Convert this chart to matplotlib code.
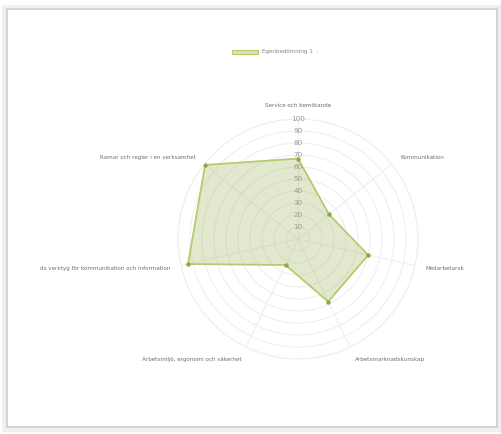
import numpy as np
import matplotlib
matplotlib.use("Agg")
import matplotlib.pyplot as plt
from matplotlib.patches import Rectangle

categories = ["Service och bemötande", "Kommunikation", "Medarbetarsk",
              "Arbetsmarknadskunskap", "Arbetsmiljö, ergonomi och säkerhet",
              "ds verktyg för kommunikation och information",
              "Ramar och regler i en verksamhet"]
values = [67, 33, 60, 58, 24, 94, 99]
series_name = "Egenbedömning 1"
ticks = [10, 20, 30, 40, 50, 60, 70, 80, 90, 100]

W, H = 501, 434
fig = plt.figure(figsize=(W / 100, H / 100), dpi=100)
fig.patch.set_facecolor("white")

# card frame with soft shadow
def px_rect(x0, y0, x1, y1, **kw):
    r = Rectangle((x0 / W, 1 - y1 / H), (x1 - x0) / W, (y1 - y0) / H,
                  transform=fig.transFigure, fill=False, **kw)
    fig.add_artist(r)

px_rect(4, 7, 499, 430, edgecolor="#f0f0f0", linewidth=3.0)
px_rect(7, 9, 497, 427, edgecolor="#d4d4d4", linewidth=1.5)

cx, cy, R = 298, 239, 120
ax = fig.add_axes([(cx - R) / W, (H - cy - R) / H, 2 * R / W, 2 * R / H],
                  projection="polar")
ax.set_theta_zero_location("N")
ax.set_theta_direction(-1)
ax.set_facecolor("none")

n = len(categories)
angles = np.arange(n) * 2 * np.pi / n
ax.set_ylim(0, 100)
ax.set_yticks(ticks)
ax.set_yticklabels([])
ax.set_xticks(angles)
ax.set_xticklabels([])
ax.grid(True, color="#efefef", linewidth=0.8)
ax.spines["polar"].set_color("#efefef")
ax.spines["polar"].set_linewidth(0.8)

# radial tick labels
for t in ticks:
    ax.text(0, t, str(t), ha="center", va="center", fontsize=5.2,
            color="#9a9a9a", zorder=5)

# data
th = np.concatenate([angles, angles[:1]])
vv = np.concatenate([values, values[:1]])
ax.fill(th, vv, color=(160 / 255, 180 / 255, 90 / 255), alpha=0.3, zorder=2)
ax.plot(th, vv, color="#b5cb6a", linewidth=1.2, zorder=3)
ax.plot(angles, values, "o", color="#8fa845", markersize=2.2, zorder=4)

# category labels
for a, lab in zip(angles, categories):
    s = np.sin(a)
    if abs(s) < 1e-6:
        ha = "center"
    elif s > 0:
        ha = "left"
    else:
        ha = "right"
    c = np.cos(a)
    va = "center"
    if c > 0.95:
        va = "bottom"
    elif c < -0.8:
        va = "top"
    ax.text(a, 109, lab, ha=ha, va=va, fontsize=4.1, color="#707070",
            clip_on=False)

# legend
fig.add_artist(Rectangle((232 / W, 1 - 54 / H), 26 / W, 4 / H,
                         transform=fig.transFigure,
                         facecolor=(160 / 255, 180 / 255, 90 / 255, 0.4),
                         edgecolor="#b5cb6a", linewidth=0.8))
fig.text(262 / W, 1 - 52 / H, series_name + "  ·", ha="left", va="center",
         fontsize=4.1, color="#888888")

fig.savefig("out.png", dpi=100)
